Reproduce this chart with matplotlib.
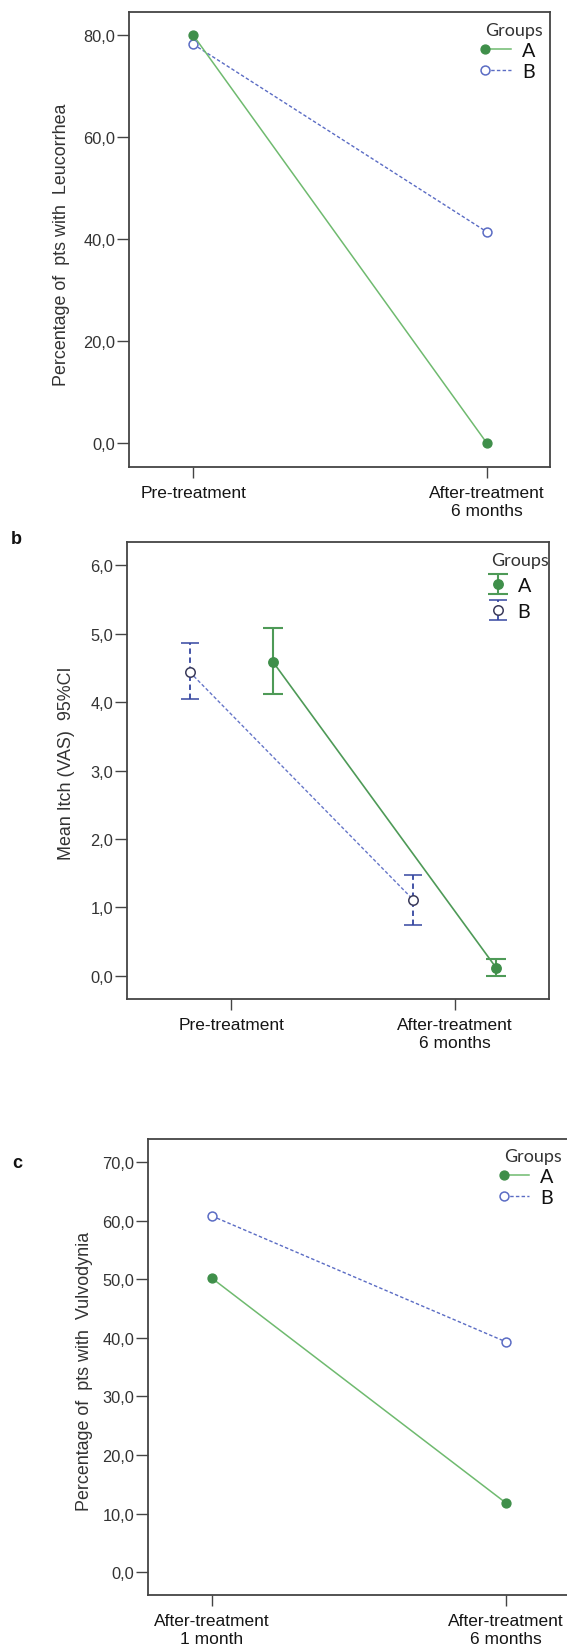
import matplotlib
matplotlib.use("Agg")
import matplotlib.pyplot as plt
from matplotlib.ticker import FuncFormatter, FixedLocator
from matplotlib.legend_handler import HandlerLine2D
import numpy as np

# ---------------- data ----------------
groups = ["A", "B"]

cats_a = ["Pre-treatment", "After-treatment\n6 months"]
leuc_A = [80.0, 0.0]
leuc_B = [78.2, 41.4]
yticks_a = [0, 20, 40, 60, 80]

cats_b = ["Pre-treatment", "After-treatment\n6 months"]
itch_A_mean = [4.59, 0.11]
itch_A_lo = [4.12, -0.01]
itch_A_hi = [5.09, 0.24]
itch_B_mean = [4.44, 1.11]
itch_B_lo = [4.04, 0.74]
itch_B_hi = [4.86, 1.48]
yticks_b = [0, 1, 2, 3, 4, 5, 6]

cats_c = ["After-treatment\n1 month", "After-treatment\n6 months"]
vulv_A = [50.2, 11.8]
vulv_B = [60.8, 39.3]
yticks_c = [0, 10, 20, 30, 40, 50, 60, 70]

# ---------------- style ----------------
GREEN_M = "#3f8f4a"
GREEN_L = "#6fba6f"
GREEN_B = "#4e9a57"
BLUE_L = "#5b6cc4"
BLUE_E = "#3546a0"
BLUE_M = "#3a3a5a"
TXT = "#333333"
XTXT = "#151515"
SPINE = "#444444"

TICKFONT = "Liberation Sans"
LEGFONT = "Lato"

fig = plt.figure(figsize=(5.67, 16.49), dpi=100)


class LeftMarker(HandlerLine2D):
    def create_artists(self, *args, **kwargs):
        arts = super().create_artists(*args, **kwargs)
        for a in arts:
            a.set_markevery([0])
        return arts


def comma_fmt(v, pos):
    return f"{v:.1f}".replace(".", ",")


def style_axes(ax, yticks, cats, ylabel, xlim, ylim, label_xy):
    ax.set_xlim(*xlim)
    ax.set_ylim(*ylim)
    ax.yaxis.set_major_locator(FixedLocator(yticks))
    ax.yaxis.set_major_formatter(FuncFormatter(comma_fmt))
    ax.set_xticks(range(len(cats)))
    ax.set_xticklabels(cats, fontfamily=TICKFONT, fontsize=12.5, color=XTXT,
                       linespacing=1.25)
    for lab in ax.get_yticklabels():
        lab.set_fontfamily(TICKFONT)
        lab.set_fontsize(11.8)
        lab.set_color(TXT)
    ax.tick_params(axis="y", direction="out", length=8.6, width=1.0,
                   color=SPINE, pad=1.5)
    ax.tick_params(axis="x", direction="out", length=8.0, width=1.0,
                   color=SPINE, pad=5)
    for s in ax.spines.values():
        s.set_color(SPINE)
        s.set_linewidth(1.3)
    ax.set_ylabel(ylabel, fontfamily=TICKFONT, fontsize=12.9, color=TXT)
    ax.yaxis.set_label_coords(*label_xy)


def make_legend(ax, handles, anchor, hlen, hpad, lspace, handler_map=None):
    leg = ax.legend(handles=handles, labels=groups, title="Groups",
                    loc="upper left", bbox_to_anchor=anchor,
                    frameon=False, borderpad=0, borderaxespad=0,
                    handlelength=hlen, handletextpad=hpad, labelspacing=lspace,
                    numpoints=1, alignment="left",
                    prop={"family": LEGFONT, "size": 14.2},
                    title_fontproperties={"family": LEGFONT, "size": 13},
                    handler_map=handler_map)
    leg.get_title().set_color(TXT)
    for t in leg.get_texts():
        t.set_color("#111111")
    return leg


# ---------------- panel a ----------------
ax1 = fig.add_axes([0.2282, 0.7164, 0.7423, 0.2759])
xa = np.arange(len(cats_a))
lA, = ax1.plot(xa, leuc_A, color=GREEN_L, lw=1.1, marker="o", ms=6.4,
               mfc=GREEN_M, mec=GREEN_M, label="A", zorder=3)
lB, = ax1.plot(xa, leuc_B, color=BLUE_L, lw=1.0, ls=(0, (2.5, 1.6)),
               marker="o", ms=6.4, mfc="white", mec=BLUE_L, mew=1.1,
               label="B", zorder=2)
style_axes(ax1, yticks_a, cats_a, "Percentage of  pts with  Leucorrhea",
           (-0.2167, 1.2154), (-4.58, 84.56), (-0.141, 0.489))
make_legend(ax1, [lA, lB], (0.8456, 0.978), 1.3, 0.56, 0.2,
            {lA: LeftMarker(), lB: LeftMarker()})

# ---------------- panel b ----------------
OFF = 0.186
ax2 = fig.add_axes([0.2244, 0.3936, 0.7430, 0.2770])
xb = np.arange(len(cats_b))
xbA = xb + OFF
xbB = xb - OFF
mA = np.array(itch_A_mean)
mB = np.array(itch_B_mean)
ax2.plot(xbA, mA, color=GREEN_B, lw=1.2, zorder=2)
ax2.plot(xbB, mB, color="#6676c8", lw=1.0, ls=(0, (2.5, 1.6)), zorder=2)
ebA = ax2.errorbar(xbA, mA, yerr=[mA - np.array(itch_A_lo), np.array(itch_A_hi) - mA],
                   fmt="o", ms=6.8, mfc=GREEN_M, mec=GREEN_M, ecolor=GREEN_B,
                   elinewidth=1.5, capsize=7.4, capthick=1.5, zorder=4, label="A")
ebB = ax2.errorbar(xbB, mB, yerr=[mB - np.array(itch_B_lo), np.array(itch_B_hi) - mB],
                   fmt="o", ms=6.8, mfc="white", mec=BLUE_M, mew=1.1, ecolor=BLUE_E,
                   elinewidth=1.3, capsize=6.6, capthick=1.2, zorder=4, label="B")
for c in ebB[2]:
    c.set_linestyle((0, (3, 2)))
style_axes(ax2, yticks_b, cats_b, "Mean Itch (VAS)  95%CI",
           (-0.466, 1.419), (-0.34, 6.34), (-0.123, 0.517))
make_legend(ax2, [ebA, ebB], (0.8635, 0.978), 0.7, 0.64, 0.45)

# ---------------- panel c ----------------
ax3 = fig.add_axes([0.2616, 0.0323, 0.7966, 0.2763])
xc = np.arange(len(cats_c))
cA, = ax3.plot(xc, vulv_A, color=GREEN_L, lw=1.1, marker="o", ms=6.4,
               mfc=GREEN_M, mec=GREEN_M, label="A", zorder=3)
cB, = ax3.plot(xc, vulv_B, color=BLUE_L, lw=1.0, ls=(0, (2.5, 1.6)),
               marker="o", ms=6.4, mfc="white", mec=BLUE_L, mew=1.1,
               label="B", zorder=2)
style_axes(ax3, yticks_c, cats_c, "Percentage of  pts with  Vulvodynia",
           (-0.2153, 1.3185), (-3.82, 73.9), (-0.1234, 0.492))
make_legend(ax3, [cA, cB], (0.7868, 0.980), 1.3, 0.56, 0.2,
            {cA: LeftMarker(), cB: LeftMarker()})

# panel letters
fig.text(16.3 / 567, 1 - 540 / 1649, "b", fontfamily=TICKFONT, fontweight="bold",
         fontsize=13, ha="center", va="center", color="#111111")
fig.text(17.4 / 567, 1 - 1163 / 1649, "c", fontfamily=TICKFONT, fontweight="bold",
         fontsize=13, ha="center", va="center", color="#111111")

fig.savefig("out.png", dpi=100)
